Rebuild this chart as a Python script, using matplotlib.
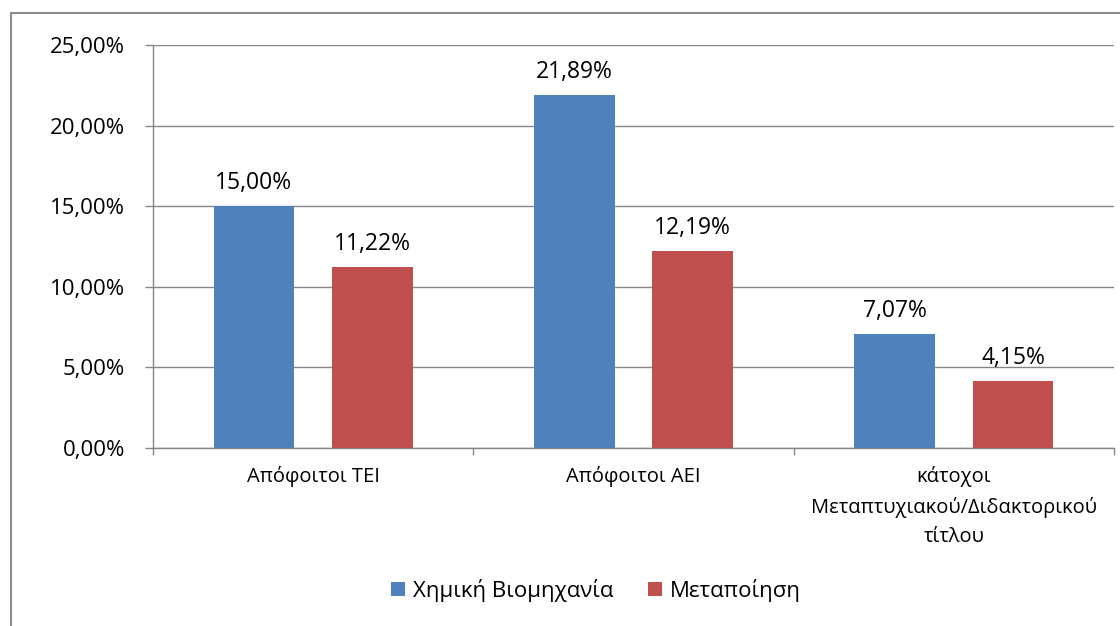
import matplotlib.pyplot as plt
import numpy as np
from matplotlib.patches import Rectangle

plt.rcParams['font.family'] = ['Open Sans', 'DejaVu Sans']

# data
categories = ["Απόφοιτοι ΤΕΙ", "Απόφοιτοι ΑΕΙ",
              "κάτοχοι\nΜεταπτυχιακού/Διδακτορικού\nτίτλου"]
chem_industry = [15.00, 21.89, 7.07]
manufacturing = [11.22, 12.19, 4.15]
series_names = ["Χημική Βιομηχανία", "Μεταποίηση"]
yticks = [0, 5, 10, 15, 20, 25]

blue = "#4F81BD"
red = "#C0504D"
grid_col = "#868686"

fig = plt.figure(figsize=(11.2, 6.26), dpi=100)
ax = fig.add_axes([153 / 1120, 1 - 448 / 626, (1114 - 153) / 1120, (448 - 45) / 626])

# outer chart border (left/top visible, right/bottom cut off)
fig.patches.append(Rectangle((11 / 1120, -0.05), 1.2, 1 - 13 / 626 + 0.05,
                             transform=fig.transFigure, fill=False,
                             edgecolor="#8c8c8c", linewidth=1.5))

x = np.arange(len(categories))
w = 0.252
off = 0.185
b1 = ax.bar(x - off, chem_industry, w, color=blue, label=series_names[0], zorder=3)
b2 = ax.bar(x + off, manufacturing, w, color=red, label=series_names[1], zorder=3)

for bars, vals in ((b1, chem_industry), (b2, manufacturing)):
    for rect, v in zip(bars, vals):
        ax.text(rect.get_x() + rect.get_width() / 2, v + 0.7,
                f"{v:.2f}%".replace(".", ","), ha="center", va="bottom",
                fontsize=16.5)

ax.set_xlim(-0.5, len(categories) - 0.5)
ax.set_ylim(0, 25)
ax.set_yticks(yticks)
ax.set_yticklabels([f"{t:.2f}%".replace(".", ",") for t in yticks], fontsize=16)
ax.yaxis.grid(True, color=grid_col, linewidth=1.0, zorder=0)
ax.set_axisbelow(True)

# category boundary ticks on the x axis
ax.set_xticks(np.arange(len(categories) + 1) - 0.5)
ax.set_xticklabels([])
ax.set_xticks(x, minor=True)
ax.set_xticklabels(categories, minor=True, fontsize=14.5, linespacing=1.6)
ax.tick_params(axis="x", which="minor", length=0, pad=13)
ax.tick_params(axis="x", which="major", length=5, color=grid_col, width=1.0)
ax.tick_params(axis="y", length=6, color=grid_col, width=1.0, pad=14)

for s in ("top", "right"):
    ax.spines[s].set_visible(False)
for s in ("left", "bottom"):
    ax.spines[s].set_color(grid_col)
    ax.spines[s].set_linewidth(1.0)

fig.legend(handles=[b1, b2], labels=series_names, loc="center",
           bbox_to_anchor=(596 / 1120, 1 - 590 / 626), ncol=2, frameon=False,
           fontsize=16, handlelength=0.6, handleheight=0.6,
           handletextpad=0.35, columnspacing=1.6)

fig.savefig("out.png", dpi=100)
